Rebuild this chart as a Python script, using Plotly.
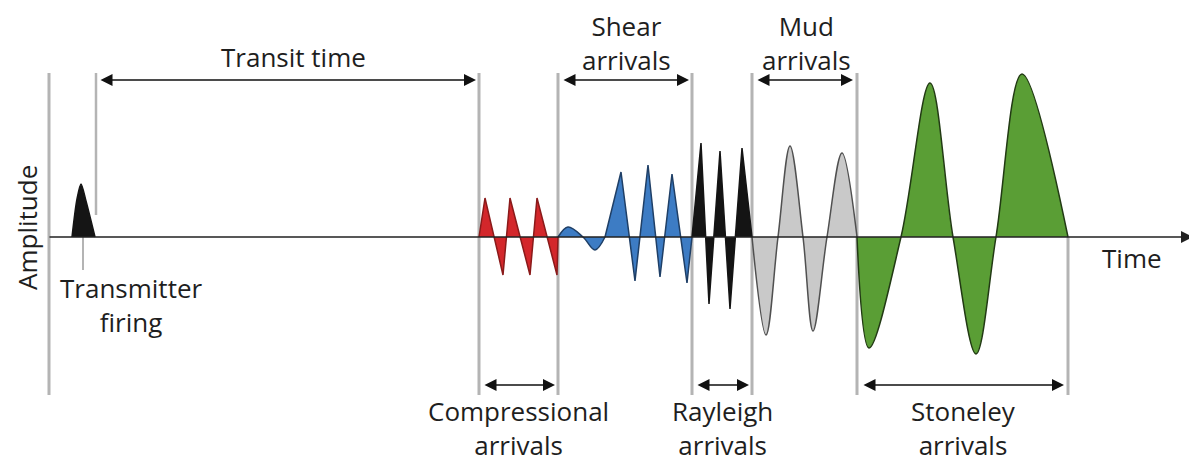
import plotly.graph_objects as go

# ---- data (time in px-like units, amplitude relative to baseline) ----
pulse_t = [72, 77, 81, 86, 95]
pulse_a = [0, 38, 53, 36, 0]

comp_t = [479, 485, 503, 510, 530, 537, 557, 558]
comp_a = [0, 39, -38, 39, -38, 39, -38, 0]

shear1_t = [558, 568, 583, 595, 605]
shear1_a = [0, 10, 0, -13, 0]
shear2_t = [605, 621, 635, 648, 660, 672, 687, 692]
shear2_a = [0, 65, -44, 72, -40, 63, -46, 0]

ray_t = [692, 701, 709, 720, 730, 742, 752]
ray_a = [0, 94, -67, 86, -72, 89, 0]

mud_t = [752, 766, 778, 790, 803, 813, 827, 842, 857]
mud_a = [0, -98, 0, 91, 0, -94, 0, 84, 0]

ston_t = [857, 869, 901, 930, 953, 976, 996, 1022, 1068]
ston_a = [0, -111, 0, 154, 0, -117, 0, 163, 0]

# boundaries of arrival windows
bounds_full = [49, 479, 558, 692, 752, 857]
transit_start = 96
fire_t = 83
stoneley_end = 1068

BASE = 237  # pixel row of the baseline (for layout placement)
def A(py):
    return BASE - py

PAGE_MARGIN = 8  # browser body margin around the figure

fig = go.Figure()

def wave(t, a, fill, line, shape="linear", smooth=1.0):
    fig.add_trace(go.Scatter(
        x=t, y=a, mode="lines", fill="tozeroy", fillcolor=fill,
        line=dict(color=line, width=1.5, shape=shape, smoothing=smooth),
        hoverinfo="skip", showlegend=False))

wave(pulse_t, pulse_a, "#151515", "#151515", "spline", 0.8)
wave(comp_t, comp_a, "#d3272b", "#8a1a1a")
wave(shear1_t, shear1_a, "#3d7cc4", "#1f3f66", "spline", 1.0)
wave(shear2_t, shear2_a, "#3d7cc4", "#1f3f66")
wave(ray_t, ray_a, "#141414", "#141414")
wave(mud_t, mud_a, "#c9c9c9", "#505050", "spline", 1.0)
wave(ston_t, ston_a, "#5a9e35", "#223a14", "spline", 1.0)

shapes = []
gray = "#b4b4b4"
for bx in bounds_full:
    shapes.append(dict(type="line", x0=bx, x1=bx, y0=A(73), y1=A(395),
                       line=dict(color=gray, width=3), layer="below"))
shapes.append(dict(type="line", x0=transit_start, x1=transit_start, y0=A(73), y1=A(215),
                   line=dict(color=gray, width=2.5), layer="below"))
shapes.append(dict(type="line", x0=fire_t, x1=fire_t, y0=A(237), y1=A(270),
                   line=dict(color=gray, width=2), layer="below"))
shapes.append(dict(type="line", x0=stoneley_end, x1=stoneley_end, y0=A(237), y1=A(395),
                   line=dict(color=gray, width=3), layer="below"))

ann = []
def darrow(x0, x1, py):
    ann.append(dict(x=x1, y=A(py), ax=x0, ay=A(py), xref="x", yref="y",
                    axref="x", ayref="y", text="", showarrow=True,
                    arrowhead=2, arrowside="end+start", arrowsize=1.5,
                    arrowwidth=1.6, arrowcolor="#111", standoff=0, startstandoff=0))

darrow(99, 476, 80)
darrow(562, 689, 80)
darrow(756, 853, 80)
darrow(483, 555, 385)
darrow(696, 749, 385)
darrow(862, 1064, 385)

# time axis
ann.append(dict(x=1193, y=0, ax=48, ay=0, xref="x", yref="y", axref="x", ayref="y",
                text="", showarrow=True, arrowhead=2, arrowsize=1.5, arrowwidth=1.6,
                arrowcolor="#222", standoff=0))

F = dict(family="Open Sans", size=26, color="#1e1e1e")
def label(txt, x, py, angle=0):
    ann.append(dict(x=x, y=A(py), xref="x", yref="y", text=txt, showarrow=False,
                    font=F, xanchor="center", yanchor="middle", textangle=angle,
                    align="center"))

label("Transit time", 293, 57)
label("Shear<br>arrivals", 626, 43)
label("Mud<br>arrivals", 806, 43)
label("Transmitter<br>firing", 131, 305)
label("Compressional<br>arrivals", 518, 428)
label("Rayleigh<br>arrivals", 722, 428)
label("Stoneley<br>arrivals", 963, 428)
label("Time", 1132, 258)
label("Amplitude", 27, 228, -90)

W, H = 1197, 462
fig.update_layout(
    width=W - PAGE_MARGIN, height=H - PAGE_MARGIN,
    margin=dict(l=0, r=0, t=0, b=0),
    paper_bgcolor="white", plot_bgcolor="white",
    xaxis=dict(range=[PAGE_MARGIN, W], visible=False, fixedrange=True),
    yaxis=dict(range=[A(H), A(PAGE_MARGIN)], visible=False, fixedrange=True),
    shapes=shapes, annotations=ann, showlegend=False)

fig.write_html("out.html")
